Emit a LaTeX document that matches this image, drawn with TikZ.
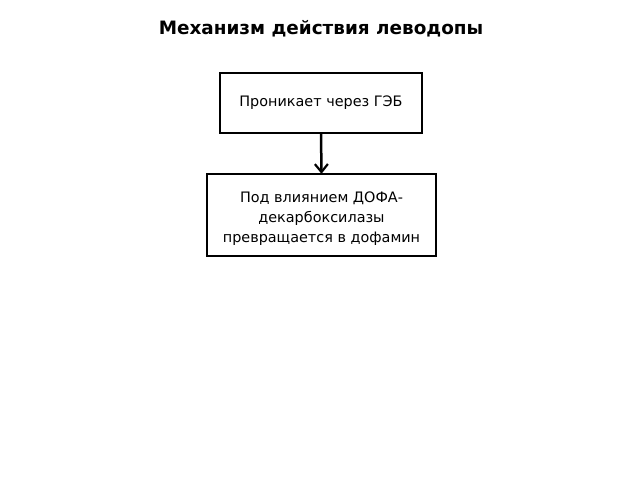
\documentclass[tikz,border=0pt]{standalone}
\usepackage{fontspec}
\setmainfont{DejaVu Sans}
\usetikzlibrary{arrows.meta}
\begin{document}
\begin{tikzpicture}[x=1pt,y=-1pt,
  stepbox/.style={inner sep=0pt,align=center,font=\fontsize{14.4}{20}\selectfont},
  frame/.style={line width=1.6pt},
  flow/.style={line width=2.5pt,-{Straight Barb[length=8pt,width=13pt,line width=2.2pt]}}]
\useasboundingbox (0,0) rectangle (640,480);
\node[font=\bfseries\fontsize{18.4}{20}\selectfont] (title) at (321,29) {Механизм действия леводопы};
\node[stepbox,minimum width=202pt,minimum height=60pt] (a) at (321,103) {Проникает через ГЭБ};
\draw[frame] (a.north west) rectangle (a.south east);
\node[stepbox,minimum width=229pt,minimum height=90pt] (b) at (321.5,219) {Под влиянием ДОФА-\\декарбоксилазы\\превращается в дофамин};
\draw[frame] (207,174) rectangle (436,256);
\draw[flow] (a.south) -- (b.north);
\end{tikzpicture}
\end{document}
